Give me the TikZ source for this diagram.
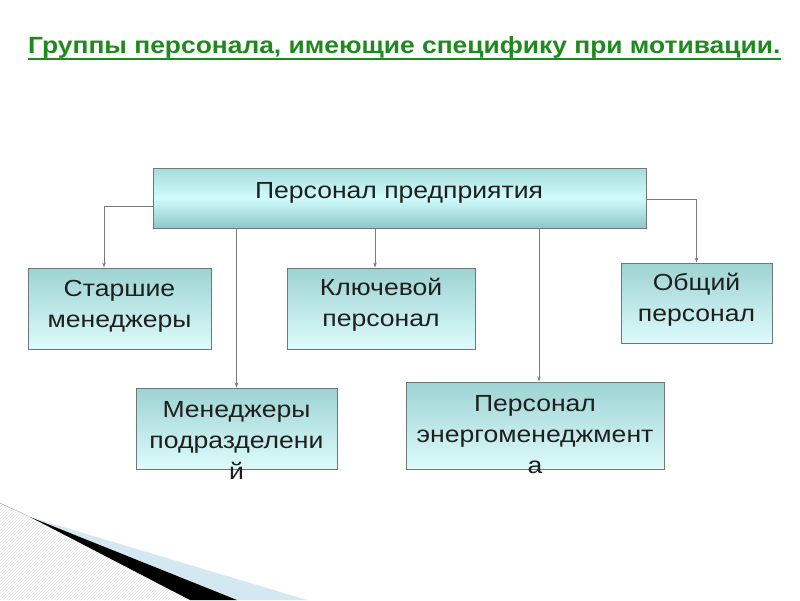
\documentclass[tikz,border=0pt]{standalone}
\usepackage{fontspec}
\setmainfont{Liberation Sans}
\usetikzlibrary{arrows.meta,patterns}
\definecolor{titlegreen}{HTML}{1E8A1E}
\definecolor{boxtop}{HTML}{9ED3D3}
\definecolor{boxbot}{HTML}{DDFBFB}
\definecolor{topupper}{HTML}{A6DCDC}
\definecolor{topmid}{HTML}{D0FCFC}
\definecolor{topbot}{HTML}{8EC6C6}
\definecolor{boxline}{HTML}{6E7878}
\definecolor{connc}{HTML}{7A7A7A}
\definecolor{swblue}{HTML}{D3E8F1}
\newcommand{\sx}[1]{\scalebox{1.14}[1]{#1}}
\begin{document}
\begin{tikzpicture}[x=1pt,y=-1pt,
  box/.style={draw=boxline, line width=0.9pt, shading=axis, top color=boxtop, bottom color=boxbot, inner sep=0pt},
  topbox/.style={draw=boxline, line width=0.9pt, shading=axis, top color=topupper, bottom color=topbot, middle color=topmid, inner sep=0pt},
  lbl/.style={font=\fontsize{23.3}{31}\selectfont, align=center, inner sep=0pt, text=black!88},
  conn/.style={draw=connc, line width=0.8pt, -{Stealth[length=5pt,width=3.5pt]}}]
\useasboundingbox (0,0) rectangle (800,600);
% background swoosh
\fill[pattern=north east lines, pattern color=gray!22] (0,503) -- (190,600) -- (0,600) -- cycle;
\fill[swblue] (30,517) -- (307,600) -- (237,600) -- cycle;
\fill[black] (30,517) -- (237,600) -- (190,600) -- cycle;
\draw[gray!60, line width=0.5pt] (0,503) -- (30,517);
% title
\node[anchor=base west, inner sep=0pt, text=titlegreen] (title) at (28,53.3)
  {\resizebox{752pt}{17pt}{\bfseries Группы персонала, имеющие специфику при мотивации.}};
\draw[titlegreen, line width=2pt] ([yshift=-5.2pt]title.base west) -- ([yshift=-5.2pt]title.base east);
% boxes
\node[topbox, minimum width=493pt, minimum height=60pt] (top) at (399.5,198) {};
\node[box, minimum width=183pt, minimum height=81pt] (old) at (119.5,308.5) {};
\node[box, minimum width=188pt, minimum height=81pt] (key) at (381,308.5) {};
\node[box, minimum width=151pt, minimum height=80pt] (gen) at (696.5,303) {};
\node[box, minimum width=201pt, minimum height=81pt] (mgr) at (236.5,428.5) {};
\node[box, minimum width=258pt, minimum height=87pt] (eng) at (535,425.5) {};
% texts
\node[lbl, anchor=base] (topt) at (399,198.3) {\sx{Персонал предприятия}};
\node[lbl] (oldt) at (119.5,306) {\sx{Старшие}\\\sx{менеджеры}};
\node[lbl] (keyt) at (381,305) {\sx{Ключевой}\\\sx{персонал}};
\node[lbl] (gent) at (696.5,300) {\sx{Общий}\\\sx{персонал}};
\node[lbl] (mgrt) at (236.5,440) {\sx{Менеджеры}\\\sx{подразделени}\\\sx{й}};
\node[lbl] (engt) at (535,435) {\sx{Персонал}\\\sx{энергоменеджмент}\\\sx{а}};
% connectors
\draw[conn] ([yshift=-8pt]top.west) -| ([xshift=-15.5pt]old.north);
\draw[conn] (top.south -| mgr.north) -- (mgr.north);
\draw[conn] ([xshift=-6pt]top.south -| key.north) -- ([xshift=-6pt]key.north);
\draw[conn] ([xshift=4pt]top.south -| eng.north) -- ([xshift=4pt]eng.north);
\draw[conn] ([yshift=-1pt]top.east) -| (gen.north);
\end{tikzpicture}
\end{document}
